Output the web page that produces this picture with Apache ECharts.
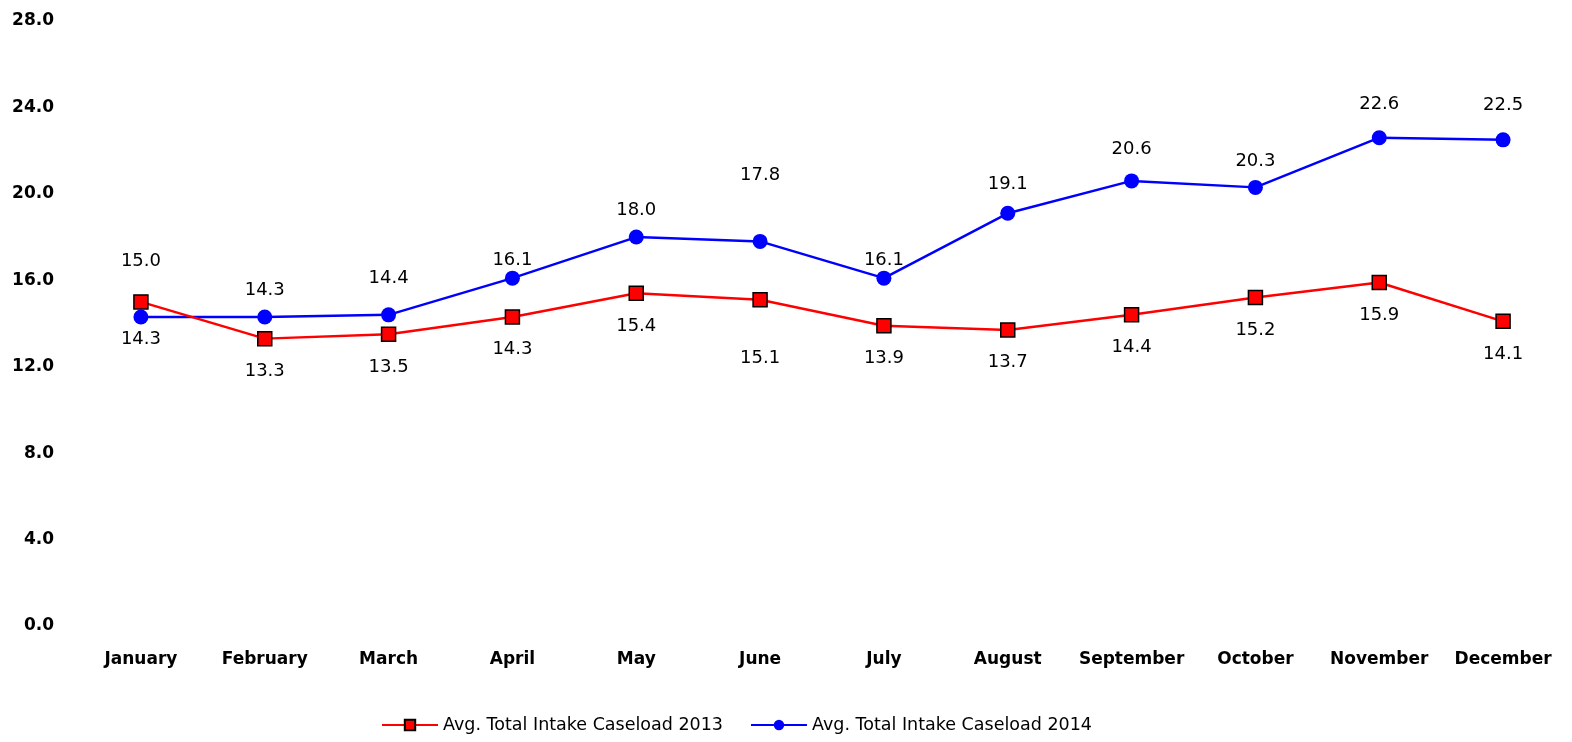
<!DOCTYPE html>
<html>
<head>
<meta charset="utf-8">
<script src="https://cdn.jsdelivr.net/npm/echarts@6/dist/echarts.min.js"></script>
<style>
html,body{margin:0;padding:0;background:#fff;}
#chart{width:1572px;height:742px;}
</style>
</head>
<body>
<div id="chart"></div>
<script>
const months = ["January","February","March","April","May","June","July","August","September","October","November","December"];
const caseload2013 = [15.0, 13.3, 13.5, 14.3, 15.4, 15.1, 13.9, 13.7, 14.4, 15.2, 15.9, 14.1];
const caseload2014 = [14.3, 14.3, 14.4, 16.1, 18.0, 17.8, 16.1, 19.1, 20.6, 20.3, 22.6, 22.5];
const seriesNames = ["Avg. Total Intake Caseload 2013", "Avg. Total Intake Caseload 2014"];

// label placement tweaks (styling only)
const redLabelTweaks = {0: {position: 'top', distance: 24}, 5: {distance: 42}};
const blueLabelTweaks = {0: {position: 'bottom', distance: 6}, 2: {distance: 20}, 3: {distance: 1}, 5: {distance: 50}, 6: {distance: 1}, 7: {distance: 12}, 8: {distance: 15}, 10: {distance: 17}, 11: {distance: 18}};

function buildData(values, tweaks) {
  return values.map((v, i) => tweaks[i] ? {value: v, label: tweaks[i]} : v);
}

const labelFont = {fontFamily: 'DejaVu Sans', fontSize: 18, color: '#000'};
const chart = echarts.init(document.getElementById('chart'), null, {renderer: 'canvas'});
chart.setOption({
  animation: false,
  backgroundColor: '#fff',
  grid: {left: 79, right: 7, top: 21, bottom: 116, containLabel: false},
  xAxis: {
    type: 'category',
    data: months,
    boundaryGap: true,
    axisLine: {show: false},
    axisTick: {show: false},
    splitLine: {show: false},
    axisLabel: {margin: 25, fontFamily: 'DejaVu Sans', fontWeight: 'bold', fontSize: 17, color: '#000', interval: 0}
  },
  yAxis: {
    type: 'value',
    min: 0, max: 28, interval: 4,
    axisLine: {show: false},
    axisTick: {show: false},
    splitLine: {show: false},
    axisLabel: {margin: 25, fontFamily: 'DejaVu Sans', fontWeight: 'bold', fontSize: 17, color: '#000', formatter: v => v.toFixed(1)}
  },
  legend: {
    bottom: 3,
    left: 376,
    itemWidth: 56,
    itemHeight: 13,
    itemGap: 27,
    textStyle: {fontFamily: 'DejaVu Sans', fontSize: 17.5, color: '#000'},
    data: seriesNames
  },
  series: [
    {
      name: seriesNames[0],
      type: 'line',
      data: buildData(caseload2013, redLabelTweaks),
      symbol: 'rect',
      symbolSize: 14,
      lineStyle: {color: '#ff0000', width: 2.5},
      itemStyle: {color: '#ff0000', borderColor: '#000', borderWidth: 1.5},
      label: Object.assign({show: true, position: 'bottom', distance: 16, formatter: p => p.value.toFixed(1)}, labelFont),
      z: 3
    },
    {
      name: seriesNames[1],
      type: 'line',
      data: buildData(caseload2014, blueLabelTweaks),
      symbol: 'circle',
      symbolSize: 15,
      lineStyle: {color: '#0000ff', width: 2.5},
      itemStyle: {color: '#0000ff', borderWidth: 0},
      label: Object.assign({show: true, position: 'top', distance: 10, formatter: p => p.value.toFixed(1)}, labelFont),
      z: 2
    }
  ]
});
</script>
</body>
</html>
